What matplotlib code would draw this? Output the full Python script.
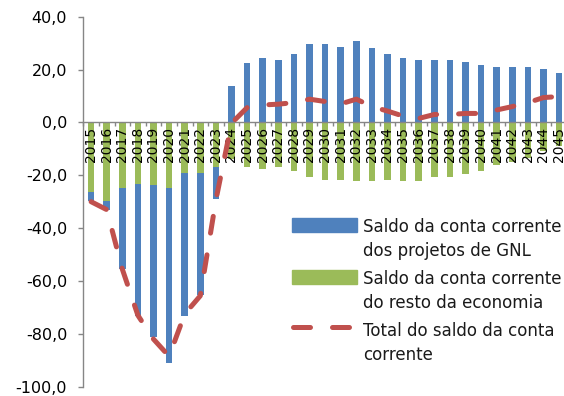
import matplotlib
matplotlib.use("Agg")
import matplotlib.pyplot as plt
import numpy as np
from matplotlib.patches import Rectangle
from matplotlib.lines import Line2D
from matplotlib.transforms import Affine2D
from matplotlib.ticker import FuncFormatter

# ---- data ----
years = [str(y) for y in range(2015, 2046)]
gnl_balance = [-3.4, -3.6, -30.6, -50.0, -57.6, -66.2, -54.1, -46.2, -12.4,
               13.9, 22.4, 24.4, 23.8, 26.0, 29.5, 29.5, 28.7, 30.9, 28.1,
               26.0, 24.4, 23.8, 23.8, 23.8, 23.0, 21.6, 20.9, 20.9, 20.9,
               20.2, 18.7]
rest_balance = [-26.2, -29.6, -24.9, -23.3, -23.7, -24.9, -19.2, -19.2, -16.7,
                -14.0, -16.8, -17.8, -16.9, -18.5, -20.7, -21.6, -21.7, -22.1,
                -22.1, -21.7, -22.0, -22.3, -20.8, -20.8, -19.6, -18.2, -16.2,
                -14.9, -13.4, -10.8, -8.9]
total_balance = [-30.0, -33.0, -55.5, -73.0, -82.0, -88.5, -72.5, -65.6, -29.4,
                 -0.3, 5.6, 6.6, 6.9, 7.5, 8.8, 7.9, 7.0, 8.8, 6.0, 4.3, 2.4,
                 1.5, 3.0, 3.0, 3.4, 3.4, 4.7, 6.0, 7.5, 9.4, 9.8]
legend_labels = [["Saldo da conta corrente", "dos projetos de GNL"],
                 ["Saldo da conta corrente", "do resto da economia"],
                 ["Total do saldo da conta", "corrente"]]

BLUE = "#4F81BD"
GREEN = "#9BBB59"
RED = "#C0504D"
GRAY = "#868686"

W, H = 564, 396
fig = plt.figure(figsize=(W / 100, H / 100), dpi=100)
ax = fig.add_axes([83.3 / W, (H - 386.7) / H, 499.2 / W, 370.0 / H])

x = np.arange(len(years))
g = np.array(gnl_balance)
r = np.array(rest_balance)
blue_bottom = np.where((g < 0) & (r < 0), r, 0.0)

ax.bar(x, r, width=0.42, color=GREEN, zorder=1)
ax.bar(x, g, bottom=blue_bottom, width=0.42, color=BLUE, zorder=1)
ax.plot(x, total_balance, color=RED, lw=3.6, linestyle=(0, (3.4, 4.4)),
        dash_capstyle="round", solid_capstyle="round", zorder=3)

ax.set_xlim(-0.5, 31.5)
ax.set_ylim(-100, 40)

for s in ["top", "right"]:
    ax.spines[s].set_visible(False)
ax.spines["bottom"].set_position(("data", 0))
for s in ["left", "bottom"]:
    ax.spines[s].set_color(GRAY)
    ax.spines[s].set_linewidth(1.0)

ax.set_xticks(x)
ax.set_xticklabels(years, rotation=90, fontsize=10, family="DejaVu Sans")
ax.tick_params(axis="x", which="major", length=0, pad=3)
ax.set_xticks(np.arange(-0.5, 31.0, 1.0), minor=True)
ax.tick_params(axis="x", which="minor", length=3, width=1.0, color=GRAY, direction="out")

ax.set_yticks(np.arange(-100, 41, 20))
ax.yaxis.set_major_formatter(FuncFormatter(lambda v, p: f"{v:.1f}".replace(".", ",")))
ax.tick_params(axis="y", length=3.6, width=1.0, color=GRAY, pad=8, labelsize=11.5)

# ---- legend (pixel coordinates, y from top) ----
pix = Affine2D().scale(1.0 / W, -1.0 / H).translate(0, 1) + fig.transFigure
fig.add_artist(Rectangle((291.7, 218.3), 65, 13.4, transform=pix, color=BLUE))
fig.add_artist(Rectangle((291.7, 270.3), 65, 13.6, transform=pix, color=GREEN))
fig.add_artist(Line2D([292.5, 348.5], [327, 327], transform=pix, color=RED, lw=3.6,
                      linestyle=(0, (3.4, 4.4)), dash_capstyle="round"))
baselines = [(232.5, 255.5), (284.5, 307.5), (336.0, 359.5)]
for lines, bls in zip(legend_labels, baselines):
    for txt, b in zip(lines, bls):
        fig.text(363, b, txt, transform=pix, va="baseline", ha="left", fontsize=12,
                 family="DejaVu Sans", color="#1a1a1a")

fig.savefig("out.png", dpi=100)
